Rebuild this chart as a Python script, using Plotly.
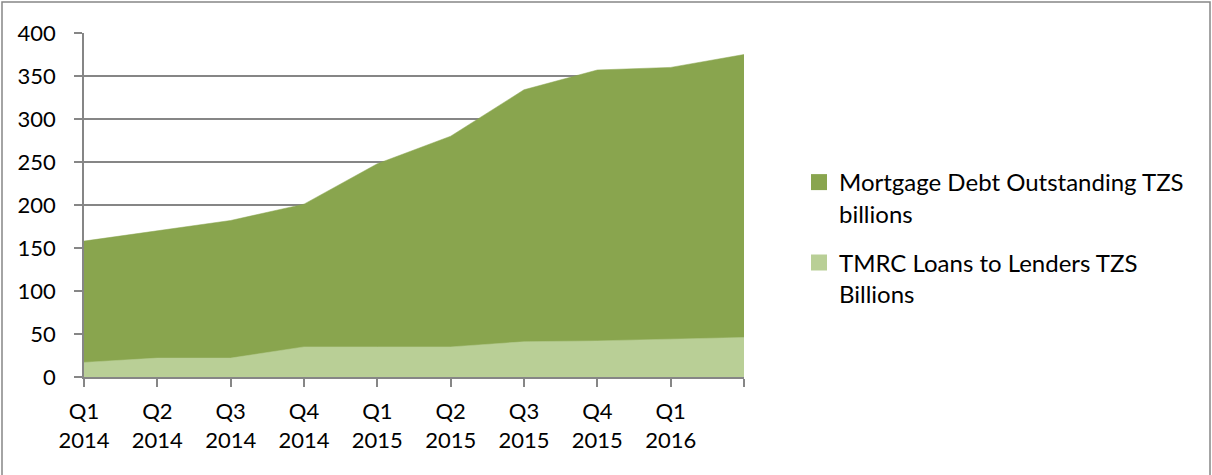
import plotly.graph_objects as go

quarters = ["Q1<br>2014", "Q2<br>2014", "Q3<br>2014", "Q4<br>2014", "Q1<br>2015",
            "Q2<br>2015", "Q3<br>2015", "Q4<br>2015", "Q1<br>2016", ""]
mortgage_debt = [158, 170, 182, 201, 248, 280, 334, 357, 360, 375]
tmrc_loans = [17, 22, 22, 35, 35, 35, 41, 42, 44, 46]
series_names = ["Mortgage Debt Outstanding TZS<br>billions",
                "TMRC Loans to Lenders TZS<br>Billions"]

x_idx = list(range(len(quarters)))

DARK = "#89a54e"
LIGHT = "#b9cf96"
GRID = "#868686"
FONT = "Lato"

fig = go.Figure()
for vals, col in ((mortgage_debt, DARK), (tmrc_loans, LIGHT)):
    fig.add_trace(go.Scatter(
        x=x_idx, y=vals, mode="lines", fill="tozeroy",
        fillcolor=col, line=dict(color=col, width=0.5),
        showlegend=False, hoverinfo="y"))
# legend entries with square swatches
for i, (name, col) in enumerate(zip(series_names, (DARK, LIGHT))):
    fig.add_trace(go.Scatter(
        x=[None], y=[None], mode="markers", name=name, legendgroup=str(i),
        marker=dict(symbol="square", size=16, color=col)))

fig.update_layout(
    width=1212, height=475,
    margin=dict(l=84, r=468, t=33, b=98),
    paper_bgcolor="white", plot_bgcolor="white",
    font=dict(family=FONT, size=22, color="black"),
    showlegend=True,
    legend=dict(x=(799 - 84) / 660, y=(377 - 160) / 344, xanchor="left", yanchor="top",
                font=dict(family=FONT, size=24), tracegroupgap=15, valign="top",
                itemwidth=30, bgcolor="rgba(0,0,0,0)"),
    xaxis=dict(
        range=[0, 9], tickmode="array", tickvals=x_idx, ticktext=quarters,
        ticks="outside", ticklen=8, tickcolor=GRID, tickwidth=1.5,
        showline=True, linecolor=GRID, linewidth=1.5,
        showgrid=False, zeroline=False, fixedrange=True,
        tickfont=dict(family=FONT, size=22), ticklabelstandoff=6,
    ),
    yaxis=dict(
        range=[0, 400], tickmode="array", tickvals=list(range(0, 401, 50)),
        ticks="outside", ticklen=8, tickcolor=GRID, tickwidth=1.5,
        showline=True, linecolor=GRID, linewidth=1.5,
        showgrid=True, gridcolor=GRID, gridwidth=1.5,
        zeroline=False, fixedrange=True,
        tickfont=dict(family=FONT, size=22), ticklabelstandoff=14,
    ),
    shapes=[dict(type="rect", xref="paper", yref="paper",
                 x0=(2 - 84) / 660, x1=(1210 - 84) / 660,
                 y0=(377 - 480) / 344, y1=(377 - 2) / 344,
                 line=dict(color=GRID, width=1.5), fillcolor="rgba(0,0,0,0)",
                 layer="below")],
)

fig.write_html("out.html", config={"displayModeBar": False},
               post_script="document.body.style.margin='0';document.body.style.overflow='hidden';")
